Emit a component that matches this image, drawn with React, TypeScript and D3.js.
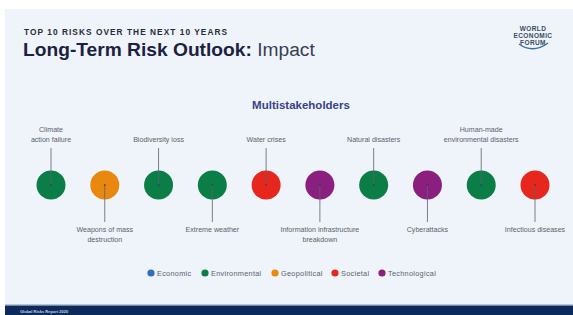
import React from "react";
import * as d3 from "d3";

const risks = [
  "Climate action failure",
  "Weapons of mass destruction",
  "Biodiversity loss",
  "Extreme weather",
  "Water crises",
  "Information infrastructure breakdown",
  "Natural disasters",
  "Cyberattacks",
  "Human-made environmental disasters",
  "Infectious diseases",
];
const riskLabelLines = [
  ["Climate", "action failure"],
  ["Weapons of mass", "destruction"],
  ["Biodiversity loss"],
  ["Extreme weather"],
  ["Water crises"],
  ["Information infrastructure", "breakdown"],
  ["Natural disasters"],
  ["Cyberattacks"],
  ["Human-made", "environmental disasters"],
  ["Infectious diseases"],
];
const riskCategory = [
  "Environmental",
  "Geopolitical",
  "Environmental",
  "Environmental",
  "Societal",
  "Technological",
  "Environmental",
  "Technological",
  "Environmental",
  "Societal",
];
const categories = ["Economic", "Environmental", "Geopolitical", "Societal", "Technological"];
const categoryColors = ["#2f6fc0", "#0b7e47", "#ea870f", "#e7271e", "#8b1f80"];

export default function App() {
  const W = 573;
  const H = 315;
  const x = d3.scalePoint<string>().domain(risks).range([51, 535]);
  const color = d3.scaleOrdinal<string, string>().domain(categories).range(categoryColors);
  const cy = 185;
  const r = 14.5;
  const font = "'Liberation Sans', Arial, Helvetica, sans-serif";
  const legendX = d3.scaleOrdinal<string, number>().domain(categories).range([151, 205, 275, 335, 382]);

  return (
    <svg width={W} height={H} style={{ position: "absolute", left: 0, top: 0 }} fontFamily={font}>
      <rect x={0} y={0} width={W} height={H} fill="#ffffff" />
      <rect x={5} y={9} width={W - 5} height={296} fill="#eef4f9" />
      <rect x={5} y={304} width={W - 5} height={1.5} fill="#b9c6d6" />
      <rect x={5} y={305.5} width={W - 5} height={10} fill="#0c2a5a" />
      <text x={20} y={313} fontSize={4} fill="#c9d3e3" fontWeight={700}>Global Risks Report 2020</text>

      <text x={24} y={35} fontSize={8.3} fontWeight={700} fill="#2a2a3a" letterSpacing={1.05}>
        TOP 10 RISKS OVER THE NEXT 10 YEARS
      </text>
      <text x={23} y={56} fontSize={19.2} fill="#1d2140">
        <tspan fontWeight={700}>Long-Term Risk Outlook:</tspan>
        <tspan fontWeight={400} fill="#3a3d55"> Impact</tspan>
      </text>

      <g fill="#3b4b64" fontSize={6.5} fontWeight={700} textAnchor="middle" letterSpacing={0.4}>
        <text x={533} y={31}>WORLD</text>
        <text x={533} y={38}>ECONOMIC</text>
        <text x={533} y={45}>FORUM</text>
      </g>
      <path d="M 519 44 Q 533 54 548 43" fill="none" stroke="#3a6fa8" strokeWidth={1.4} />

      <text x={301} y={109} fontSize={11.5} fontWeight={700} fill="#3b3f8c" textAnchor="middle">
        Multistakeholders
      </text>

      {risks.map((risk, i) => {
        const cx = x(risk) as number;
        const above = i % 2 === 0;
        const lines = riskLabelLines[i];
        const lineEnd = above ? 148 : 222;
        const labelY = above
          ? 142 - (lines.length - 1) * 10
          : 232;
        return (
          <g key={risk}>
            <circle cx={cx} cy={cy} r={r} fill={color(riskCategory[i])} />
            <line x1={cx} x2={cx} y1={cy} y2={lineEnd} stroke="#5a6270" strokeWidth={0.8} />
            <circle cx={cx} cy={cy} r={1} fill="#333" opacity={0.6} />
            <text textAnchor="middle" fontSize={7.1} fill="#5b6170">
              {lines.map((l, j) => (
                <tspan key={j} x={cx} y={labelY + j * 10}>{l}</tspan>
              ))}
            </text>
          </g>
        );
      })}

      {categories.map((c) => {
        const lx = legendX(c);
        return (
          <g key={c}>
            <circle cx={lx} cy={273} r={3.6} fill={color(c)} />
            <text x={lx + 6} y={275.5} fontSize={7.3} letterSpacing={0.3} fill="#5b6170">{c}</text>
          </g>
        );
      })}
    </svg>
  );
}
